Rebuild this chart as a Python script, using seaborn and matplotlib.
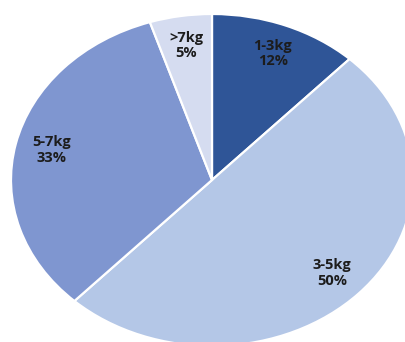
import matplotlib
matplotlib.use("Agg")
import matplotlib.pyplot as plt
import seaborn as sns

categories = ["1-3kg", "3-5kg", "5-7kg", ">7kg"]
shares = [12, 50, 33, 5]
slice_colors = ["#2F5597", "#B4C7E7", "#7F96D0", "#D5DCF0"]

sns.set_theme(style="white")
plt.rcParams["font.family"] = ["Open Sans", "DejaVu Sans"]
palette = sns.color_palette(slice_colors)

fig = plt.figure(figsize=(4.05, 3.42), dpi=100)
ax = fig.add_axes([0, 0, 1, 1])

labels = [f"{c}\n{v}%" for c, v in zip(categories, shares)]
wedges, texts = ax.pie(
    shares,
    labels=labels,
    colors=palette,
    startangle=90,
    counterclock=False,
    labeldistance=0.82,
    wedgeprops=dict(edgecolor="white", linewidth=1.6),
    textprops=dict(fontsize=10.5, fontweight="bold", color="#1c1c1c",
                   linespacing=1.15),
)
for t in texts:
    t.set_horizontalalignment("center")
    t.set_verticalalignment("center")

# stretch the pie into an ellipse, clipped at the right and bottom edges
ax.set_aspect("auto")
ax.set_xlim(-212 / 201, (405 - 212) / 201)
ax.set_ylim(-162 / 166, 180 / 166)
ax.axis("off")

fig.savefig("out.png", dpi=100)
